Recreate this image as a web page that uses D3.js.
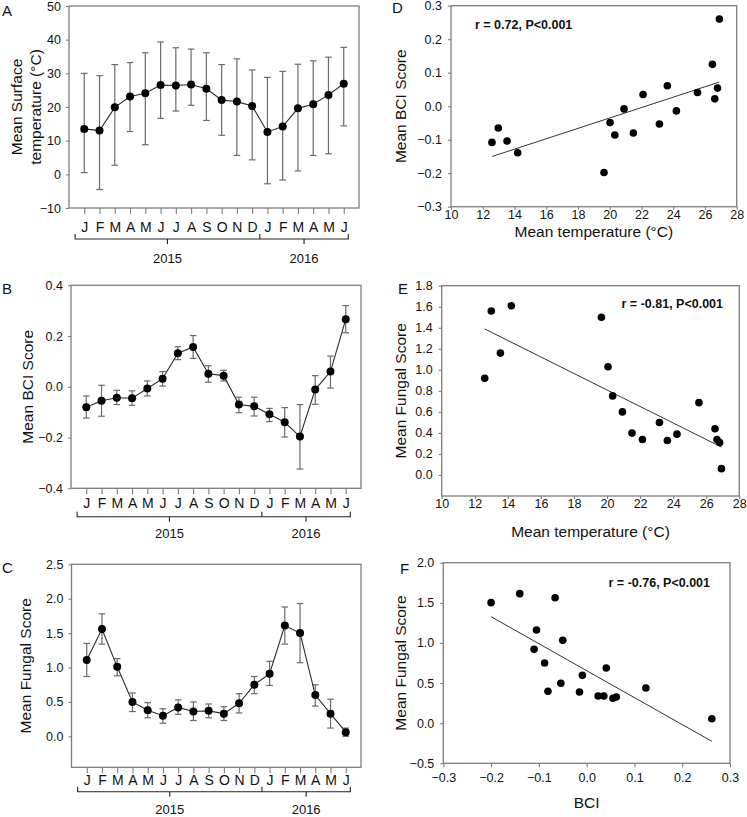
<!DOCTYPE html>
<html>
<head>
<meta charset="utf-8">
<script src="https://cdn.jsdelivr.net/npm/d3@7"></script>
<style>
  body { margin: 0; background: #fff; }
</style>
</head>
<body>
<svg width="747" height="817"></svg>
<script>
// month axis
const months = ["J","F","M","A","M","J","J","A","S","O","N","D","J","F","M","A","M","J"];
const years = ["2015", "2016"];

// A: mean surface temperature, with error bar ends
const tempMean = [13.5, 13.0, 19.9, 23.1, 24.1, 26.5, 26.4, 26.7, 25.4, 22.1, 21.6, 20.3, 12.6, 14.2, 19.6, 20.8, 23.6, 26.9];
const tempHi   = [30.0, 29.3, 32.6, 33.2, 36.1, 39.3, 37.6, 37.2, 36.1, 32.6, 34.3, 31.0, 28.8, 30.6, 32.7, 33.7, 34.8, 37.7];
const tempLo   = [0.5, -4.5, 2.7, 12.7, 8.8, 16.6, 18.8, 20.5, 16.0, 11.6, 5.6, 4.3, -2.8, -1.7, 1.0, 5.6, 6.1, 14.4];

// B: mean BCI score
const bciMean = [-0.081, -0.055, -0.043, -0.045, -0.007, 0.032, 0.132, 0.157, 0.051, 0.044, -0.070, -0.077, -0.108, -0.140, -0.196, -0.011, 0.060, 0.266];
const bciHi   = [-0.036, 0.006, -0.014, -0.016, 0.023, 0.060, 0.158, 0.202, 0.083, 0.065, -0.041, -0.041, -0.085, -0.082, -0.070, 0.044, 0.121, 0.320];
const bciLo   = [-0.123, -0.116, -0.070, -0.073, -0.036, 0.003, 0.107, 0.112, 0.018, 0.023, -0.102, -0.115, -0.137, -0.198, -0.324, -0.069, -0.005, 0.213];

// C: mean fungal score
const fungMean = [1.11, 1.56, 1.01, 0.50, 0.38, 0.30, 0.42, 0.36, 0.37, 0.33, 0.48, 0.75, 0.91, 1.61, 1.50, 0.60, 0.33, 0.06];
const fungHi   = [1.35, 1.78, 1.13, 0.63, 0.49, 0.40, 0.53, 0.50, 0.47, 0.43, 0.62, 0.87, 1.09, 1.88, 1.93, 0.75, 0.54, 0.12];
const fungLo   = [0.87, 1.34, 0.88, 0.36, 0.27, 0.19, 0.32, 0.23, 0.27, 0.23, 0.34, 0.62, 0.74, 1.34, 1.07, 0.44, 0.12, 0.00];

// D: BCI vs temperature
const dTemp = [12.58, 12.98, 13.53, 14.20, 19.64, 20.02, 20.32, 20.90, 21.49, 22.10, 23.13, 23.63, 24.20, 25.53, 26.47, 26.62, 26.79, 26.91];
const dBci  = [-0.108, -0.065, -0.104, -0.139, -0.198, -0.049, -0.086, -0.008, -0.080, 0.035, -0.053, 0.061, -0.014, 0.041, 0.125, 0.022, 0.054, 0.260];
const dFitX = [12.6, 26.9];
const dFitY = [-0.150, 0.072];

// E: fungal vs temperature
const eTemp = [12.60, 13.00, 13.55, 14.21, 19.66, 20.06, 20.34, 20.93, 21.51, 22.14, 23.17, 23.65, 24.23, 25.56, 26.53, 26.65, 26.81, 26.92];
const eFung = [0.919, 1.560, 1.159, 1.610, 1.500, 1.029, 0.752, 0.600, 0.398, 0.338, 0.499, 0.328, 0.388, 0.688, 0.439, 0.338, 0.309, 0.060];
const eFitX = [12.6, 26.92];
const eFitY = [1.389, 0.265];

// F: fungal vs BCI
const fBci  = [-0.200, -0.140, -0.110, -0.105, -0.088, -0.081, -0.066, -0.054, -0.050, -0.015, -0.009, 0.024, 0.036, 0.041, 0.055, 0.062, 0.124, 0.262];
const fFung = [1.502, 1.614, 0.920, 1.161, 0.750, 0.397, 1.564, 0.497, 1.032, 0.389, 0.596, 0.339, 0.339, 0.688, 0.310, 0.326, 0.439, 0.056];
const fFitX = [-0.2, 0.262];
const fFitY = [1.327, -0.226];

const font = '"Liberation Sans", Arial, sans-serif';
const gray = '#7d7d7d';
const svg = d3.select('svg');

function frame(g, b) {
  g.append('rect')
    .attr('x', b.x0).attr('y', b.y0)
    .attr('width', b.x1 - b.x0).attr('height', b.y1 - b.y0)
    .attr('fill', 'none').attr('stroke', gray).attr('stroke-width', 1.3);
}

function styleAxis(a, size) {
  a.attr('font-family', font).attr('font-size', size);
  a.select('.domain').remove();
  a.selectAll('line').attr('stroke', gray).attr('stroke-width', 1.1);
  a.selectAll('text').attr('fill', '#111');
}

function leftAxis(g, y, b, ticks, fmt, pad) {
  g.append('g')
    .attr('transform', 'translate(' + b.x0 + ',0)')
    .call(d3.axisLeft(y).tickValues(ticks).tickFormat(fmt).tickSize(3).tickPadding(pad))
    .call(a => styleAxis(a, 12.5));
}

function yTitle(g, lines, xs, yc) {
  lines.forEach((t, i) => {
    g.append('text')
      .attr('transform', 'translate(' + xs[i] + ',' + yc + ') rotate(-90)')
      .attr('text-anchor', 'middle').attr('dy', '0.36em')
      .attr('font-family', font).attr('font-size', 15.5).attr('fill', '#111')
      .text(t);
  });
}

function letter(g, t, x, y) {
  g.append('text').attr('x', x).attr('y', y)
    .attr('font-family', font).attr('font-size', 15).attr('fill', '#111')
    .text(t);
}

function timePanel(p) {
  const g = svg.append('g');
  const b = p.box;
  const x = d3.scaleLinear().domain([-1, months.length]).range([b.x0, b.x1]);
  const y = d3.scaleLinear().domain(p.yDomain).range([b.y1, b.y0]);

  frame(g, b);
  leftAxis(g, y, b, p.yTicks, p.fmt, 5);

  g.append('g')
    .attr('transform', 'translate(0,' + b.y1 + ')')
    .call(d3.axisBottom(x).tickValues(d3.range(months.length)).tickFormat(i => months[i])
      .tickSize(6).tickPadding(p.monthPad))
    .call(a => styleAxis(a, 14));

  // year bracket
  const yb = b.y1 + p.bracketOff;
  const ends = [-0.6, 11.5, 17.3];
  g.append('path')
    .attr('d', 'M' + x(ends[0]) + ',' + (yb - 5) + 'V' + yb + 'H' + x(ends[2]) + 'V' + (yb - 5)
      + 'M' + x(ends[1]) + ',' + yb + 'V' + (yb - 5))
    .attr('fill', 'none').attr('stroke', '#222').attr('stroke-width', 1.1);
  years.forEach((yr, i) => {
    const cx = x((ends[i] + ends[i + 1]) / 2);
    g.append('line').attr('x1', cx).attr('x2', cx).attr('y1', yb).attr('y2', yb + 5)
      .attr('stroke', '#222').attr('stroke-width', 1.1);
    g.append('text').attr('x', cx).attr('y', b.y1 + p.yearOff).attr('dy', '0.36em')
      .attr('text-anchor', 'middle').attr('font-family', font).attr('font-size', 13).attr('fill', '#111')
      .text(yr);
  });

  // error bars
  const eb = g.append('g').attr('stroke', '#6a6a6a').attr('stroke-width', 1.2);
  p.mean.forEach((m, i) => {
    const cx = x(i);
    eb.append('line').attr('x1', cx).attr('x2', cx).attr('y1', y(p.lo[i])).attr('y2', y(p.hi[i]));
    [p.lo[i], p.hi[i]].forEach(v => {
      eb.append('line').attr('x1', cx - 3.3).attr('x2', cx + 3.3).attr('y1', y(v)).attr('y2', y(v));
    });
  });

  g.append('path')
    .datum(p.mean)
    .attr('d', d3.line().x((d, i) => x(i)).y(d => y(d)))
    .attr('fill', 'none').attr('stroke', '#2a2a2a').attr('stroke-width', 1.1);

  g.selectAll('circle.pt').data(p.mean).enter().append('circle')
    .attr('cx', (d, i) => x(i)).attr('cy', d => y(d)).attr('r', 4)
    .attr('fill', '#000');

  yTitle(g, p.title, p.titleX, (b.y0 + b.y1) / 2);
  letter(g, p.letter, p.letterPos[0], p.letterPos[1]);
}

function scatterPanel(p) {
  const g = svg.append('g');
  const b = p.box;
  const x = d3.scaleLinear().domain(p.xDomain).range([b.x0, b.x1]);
  const y = d3.scaleLinear().domain(p.yDomain).range([b.y1, b.y0]);

  frame(g, b);
  leftAxis(g, y, b, p.yTicks, d3.format('.1f'), 6);

  g.append('g')
    .attr('transform', 'translate(0,' + b.y1 + ')')
    .call(d3.axisBottom(x).tickValues(p.xTicks).tickFormat(p.xFmt).tickSize(p.xTick).tickPadding(p.xPad))
    .call(a => styleAxis(a, 12.5));

  g.append('text').attr('x', (b.x0 + b.x1) / 2).attr('y', p.xTitleY).attr('dy', '0.36em')
    .attr('text-anchor', 'middle').attr('font-family', font).attr('font-size', 15.5).attr('fill', '#111')
    .text(p.xTitle);

  g.append('line')
    .attr('x1', x(p.fitX[0])).attr('y1', y(p.fitY[0]))
    .attr('x2', x(p.fitX[1])).attr('y2', y(p.fitY[1]))
    .attr('stroke', '#333').attr('stroke-width', 1);

  g.selectAll('circle.pt').data(p.xs).enter().append('circle')
    .attr('cx', d => x(d)).attr('cy', (d, i) => y(p.ys[i])).attr('r', 3.8)
    .attr('fill', '#000');

  g.append('text').attr('x', p.notePos[0]).attr('y', p.notePos[1]).attr('dy', '0.36em')
    .attr('text-anchor', p.noteAnchor).attr('font-family', font).attr('font-size', 12.5)
    .attr('font-weight', 'bold').attr('fill', '#111')
    .text(p.note);

  yTitle(g, [p.yTitle], [400], (b.y0 + b.y1) / 2);
  letter(g, p.letter, p.letterPos[0], p.letterPos[1]);
}

timePanel({
  box: {x0: 69, x1: 359, y0: 6, y1: 208},
  yDomain: [-10, 50], yTicks: d3.range(-10, 51, 10), fmt: d3.format('d'),
  mean: tempMean, lo: tempLo, hi: tempHi,
  monthPad: 8, bracketOff: 31, yearOff: 50,
  title: ['Mean Surface', 'temperature (°C)'], titleX: [16, 35],
  letter: 'A', letterPos: [2, 16]
});

timePanel({
  box: {x0: 71, x1: 361, y0: 285.3, y1: 488.3},
  yDomain: [-0.4, 0.4], yTicks: [-0.4, -0.2, 0, 0.2, 0.4], fmt: d3.format('.1f'),
  mean: bciMean, lo: bciLo, hi: bciHi,
  monthPad: 4, bracketOff: 28.5, yearOff: 45,
  title: ['Mean BCI Score'], titleX: [27],
  letter: 'B', letterPos: [2, 294]
});

timePanel({
  box: {x0: 71.5, x1: 361, y0: 564.3, y1: 767.3},
  yDomain: [-0.45, 2.5], yTicks: [0, 0.5, 1, 1.5, 2, 2.5], fmt: d3.format('.1f'),
  mean: fungMean, lo: fungLo, hi: fungHi,
  monthPad: 2, bracketOff: 24.5, yearOff: 42.5,
  title: ['Mean Fungal Score'], titleX: [25],
  letter: 'C', letterPos: [2, 573]
});

scatterPanel({
  box: {x0: 451, x1: 736.7, y0: 5.7, y1: 206.7},
  xDomain: [10, 28], xTicks: d3.range(10, 29, 2), xFmt: d3.format('d'), xTick: 3, xPad: 0,
  yDomain: [-0.3, 0.3], yTicks: [-0.3, -0.2, -0.1, 0, 0.1, 0.2, 0.3],
  xs: dTemp, ys: dBci, fitX: dFitX, fitY: dFitY,
  xTitle: 'Mean temperature (°C)', xTitleY: 231, yTitle: 'Mean BCI Score',
  note: 'r = 0.72, P<0.001', notePos: [475, 24], noteAnchor: 'start',
  letter: 'D', letterPos: [392, 13]
});

scatterPanel({
  box: {x0: 441.7, x1: 739.3, y0: 285.7, y1: 496},
  xDomain: [10, 28], xTicks: d3.range(10, 29, 2), xFmt: d3.format('d'), xTick: 3, xPad: 0,
  yDomain: [-0.2, 1.8], yTicks: [0, 0.2, 0.4, 0.6, 0.8, 1.0, 1.2, 1.4, 1.6, 1.8],
  xs: eTemp, ys: eFung, fitX: eFitX, fitY: eFitY,
  xTitle: 'Mean temperature (°C)', xTitleY: 531.5, yTitle: 'Mean Fungal Score',
  note: 'r = -0.81, P<0.001', notePos: [723, 303], noteAnchor: 'end',
  letter: 'E', letterPos: [398, 294]
});

scatterPanel({
  box: {x0: 443.3, x1: 730, y0: 562.7, y1: 763.3},
  xDomain: [-0.3, 0.3], xTicks: [-0.3, -0.2, -0.1, 0, 0.1, 0.2, 0.3], xFmt: d3.format('.1f'), xTick: 4, xPad: 6,
  yDomain: [-0.5, 2.0], yTicks: [-0.5, 0, 0.5, 1.0, 1.5, 2.0],
  xs: fBci, ys: fFung, fitX: fFitX, fitY: fFitY,
  xTitle: 'BCI', xTitleY: 802, yTitle: 'Mean Fungal Score',
  note: 'r = -0.76, P<0.001', notePos: [710, 582], noteAnchor: 'end',
  letter: 'F', letterPos: [400, 574]
});
</script>
</body>
</html>
